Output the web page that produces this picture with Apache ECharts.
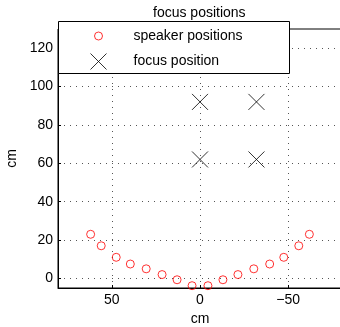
<!DOCTYPE html>
<html>
<head>
<meta charset="utf-8">
<script src="https://cdn.jsdelivr.net/npm/echarts@6/dist/echarts.min.js"></script>
<style>
  html, body { margin: 0; padding: 0; background: #fff; }
  #chart { width: 340px; height: 327px; }
</style>
</head>
<body>
<div id="chart"></div>
<script>
// Loudspeaker array (arc) and focus points, in cm
const speakerX = [62, 56, 47.5, 39.5, 30.5, 21.5, 13, 4.5, -4.5, -13, -21.5, -30.5, -39.5, -47.5, -56, -62];
const speakerY = [23, 17, 11, 7.5, 5, 2, -0.7, -3.8, -3.8, -0.7, 2, 5, 7.5, 11, 17, 23];
const focusX = [0, -32, 0, -32];
const focusY = [92, 92, 62, 62];

const xTicks = [-50, 0, 50];
const yTicks = [0, 20, 40, 60, 80, 100, 120];

const titleText = 'focus positions';
const speakerName = 'speaker positions';
const focusName = 'focus position';
const axisUnit = 'cm';

const FONT = 'Liberation Sans, Arial, Helvetica, sans-serif';
const crossPath = 'path://M0,0L10,10M10,0L0,10';

const pair = (xs, ys) => xs.map((x, i) => [x, ys[i]]);
const minusSign = v => String(v).replace('-', '\u2212');

const gridLine = { show: true, lineStyle: { color: '#555', width: 1, type: [1, 5] } };

const chart = echarts.init(document.getElementById('chart'), null, { renderer: 'canvas' });
chart.setOption({
  backgroundColor: '#fff',
  animation: false,
  title: {
    text: titleText,
    left: 153, top: 6, padding: 0,
    textStyle: { fontFamily: FONT, fontSize: 14, fontWeight: 'normal', color: '#000' }
  },
  grid: {
    left: 58, right: -2, top: 29, bottom: 39,
    outerBoundsMode: 'none',
    show: true, borderColor: '#000', borderWidth: 1, backgroundColor: '#fff'
  },
  xAxis: {
    type: 'value', inverse: true, min: -80.5, max: 80.5,
    name: axisUnit, nameLocation: 'middle', nameGap: 22,
    nameTextStyle: { fontFamily: FONT, fontSize: 14, color: '#000' },
    axisLine: { show: true, onZero: false, lineStyle: { color: '#000', width: 1 } },
    axisTick: { show: true, inside: true, length: 3, customValues: xTicks, lineStyle: { color: '#000' } },
    axisLabel: { customValues: xTicks, margin: 5, fontFamily: FONT, fontSize: 14, color: '#000', formatter: minusSign },
    splitLine: gridLine
  },
  yAxis: {
    type: 'value', min: -5, max: 130,
    name: axisUnit, nameLocation: 'middle', nameGap: 34, nameRotate: 90,
    nameTextStyle: { fontFamily: FONT, fontSize: 14, color: '#000' },
    axisLine: { show: true, onZero: false, lineStyle: { color: '#000', width: 1 } },
    axisTick: { show: true, inside: true, length: 3, customValues: yTicks, lineStyle: { color: '#000' } },
    axisLabel: { customValues: yTicks, margin: 5, fontFamily: FONT, fontSize: 14, color: '#000', formatter: minusSign },
    splitLine: gridLine
  },
  graphic: [{
    type: 'rect', z: 3,
    shape: { x: 58.5, y: 21.5, width: 231, height: 52 },
    style: { fill: '#fff', stroke: '#000', lineWidth: 1 }
  }],
  legend: [{
    data: [speakerName], left: 92, top: 29, padding: 0, z: 5,
    itemWidth: 60, itemHeight: 8, itemGap: 0,
    itemStyle: { color: 'none', borderColor: '#ff0000', borderWidth: 1 },
    textStyle: { fontFamily: FONT, fontSize: 14, color: '#000' }
  }, {
    data: [focusName], left: 88, top: 51, padding: 0, z: 5,
    itemWidth: 60, itemHeight: 16, itemGap: 0,
    itemStyle: { color: 'none', borderColor: '#000', borderWidth: 1 },
    textStyle: { fontFamily: FONT, fontSize: 14, color: '#000' }
  }],
  series: [{
    name: speakerName, type: 'scatter', symbol: 'circle', symbolSize: 8,
    itemStyle: { color: 'none', borderColor: '#ff0000', borderWidth: 1 },
    emphasis: { disabled: true },
    data: pair(speakerX, speakerY)
  }, {
    name: focusName, type: 'scatter', symbol: crossPath, symbolSize: 16,
    itemStyle: { color: 'none', borderColor: '#000', borderWidth: 1 },
    emphasis: { disabled: true },
    data: pair(focusX, focusY)
  }]
});
</script>
</body>
</html>
